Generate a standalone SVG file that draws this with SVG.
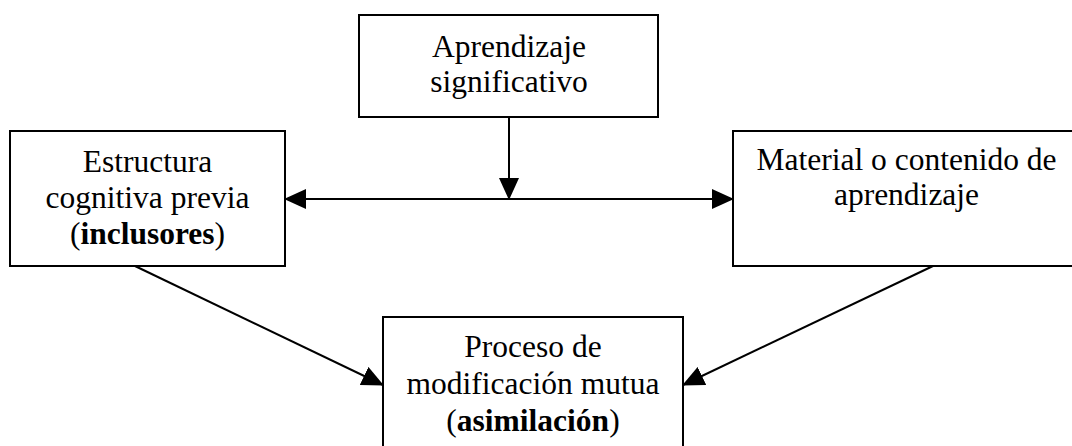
<svg xmlns="http://www.w3.org/2000/svg" width="1072" height="446" viewBox="0 0 1072 446">
<style>
.box{fill:#fff;stroke:#000;stroke-width:2}
.t{font-family:"Liberation Serif","Times New Roman",serif;font-size:31.5px;fill:#000;text-anchor:middle}
.b{font-weight:bold}
.c{stroke:#000;stroke-width:2;fill:none}
</style>
<defs>
<marker id="ah" markerUnits="userSpaceOnUse" markerWidth="22" markerHeight="20" refX="21" refY="10" orient="auto-start-reverse" viewBox="0 0 22 20">
<path d="M0,0 L22,10 L0,20 z" fill="#000"/>
</marker>
</defs>
<rect width="1072" height="446" fill="#fff"/>
<g id="n-top">
<rect class="box" x="359" y="15" width="299" height="102"/>
<text class="t" x="509" y="57">Aprendizaje</text>
<text class="t" x="509" y="92">significativo</text>
</g>
<g id="n-left">
<rect class="box" x="10" y="131" width="275" height="135"/>
<text class="t" x="147.5" y="172">Estructura</text>
<text class="t" x="147.5" y="208">cognitiva previa</text>
<text class="t" x="147.5" y="244">(<tspan class="b">inclusores</tspan>)</text>
</g>
<g id="n-right">
<rect class="box" x="733" y="131" width="347" height="135"/>
<text class="t" x="906.5" y="170">Material o contenido de</text>
<text class="t" x="906.5" y="205">aprendizaje</text>
</g>
<g id="n-bottom">
<rect class="box" x="383" y="317" width="300" height="140"/>
<text class="t" x="533" y="357">Proceso de</text>
<text class="t" x="533" y="394">modificación mutua</text>
<text class="t" x="533" y="431">(<tspan class="b">asimilación</tspan>)</text>
</g>
<g id="connectors">
<line class="c" x1="509" y1="117" x2="509" y2="199" marker-end="url(#ah)"/>
<line class="c" x1="285" y1="199" x2="733" y2="199" marker-start="url(#ah)" marker-end="url(#ah)"/>
<line class="c" x1="135" y1="266" x2="383" y2="385" marker-end="url(#ah)"/>
<line class="c" x1="933" y1="266" x2="683" y2="385" marker-end="url(#ah)"/>
</g>
</svg>
